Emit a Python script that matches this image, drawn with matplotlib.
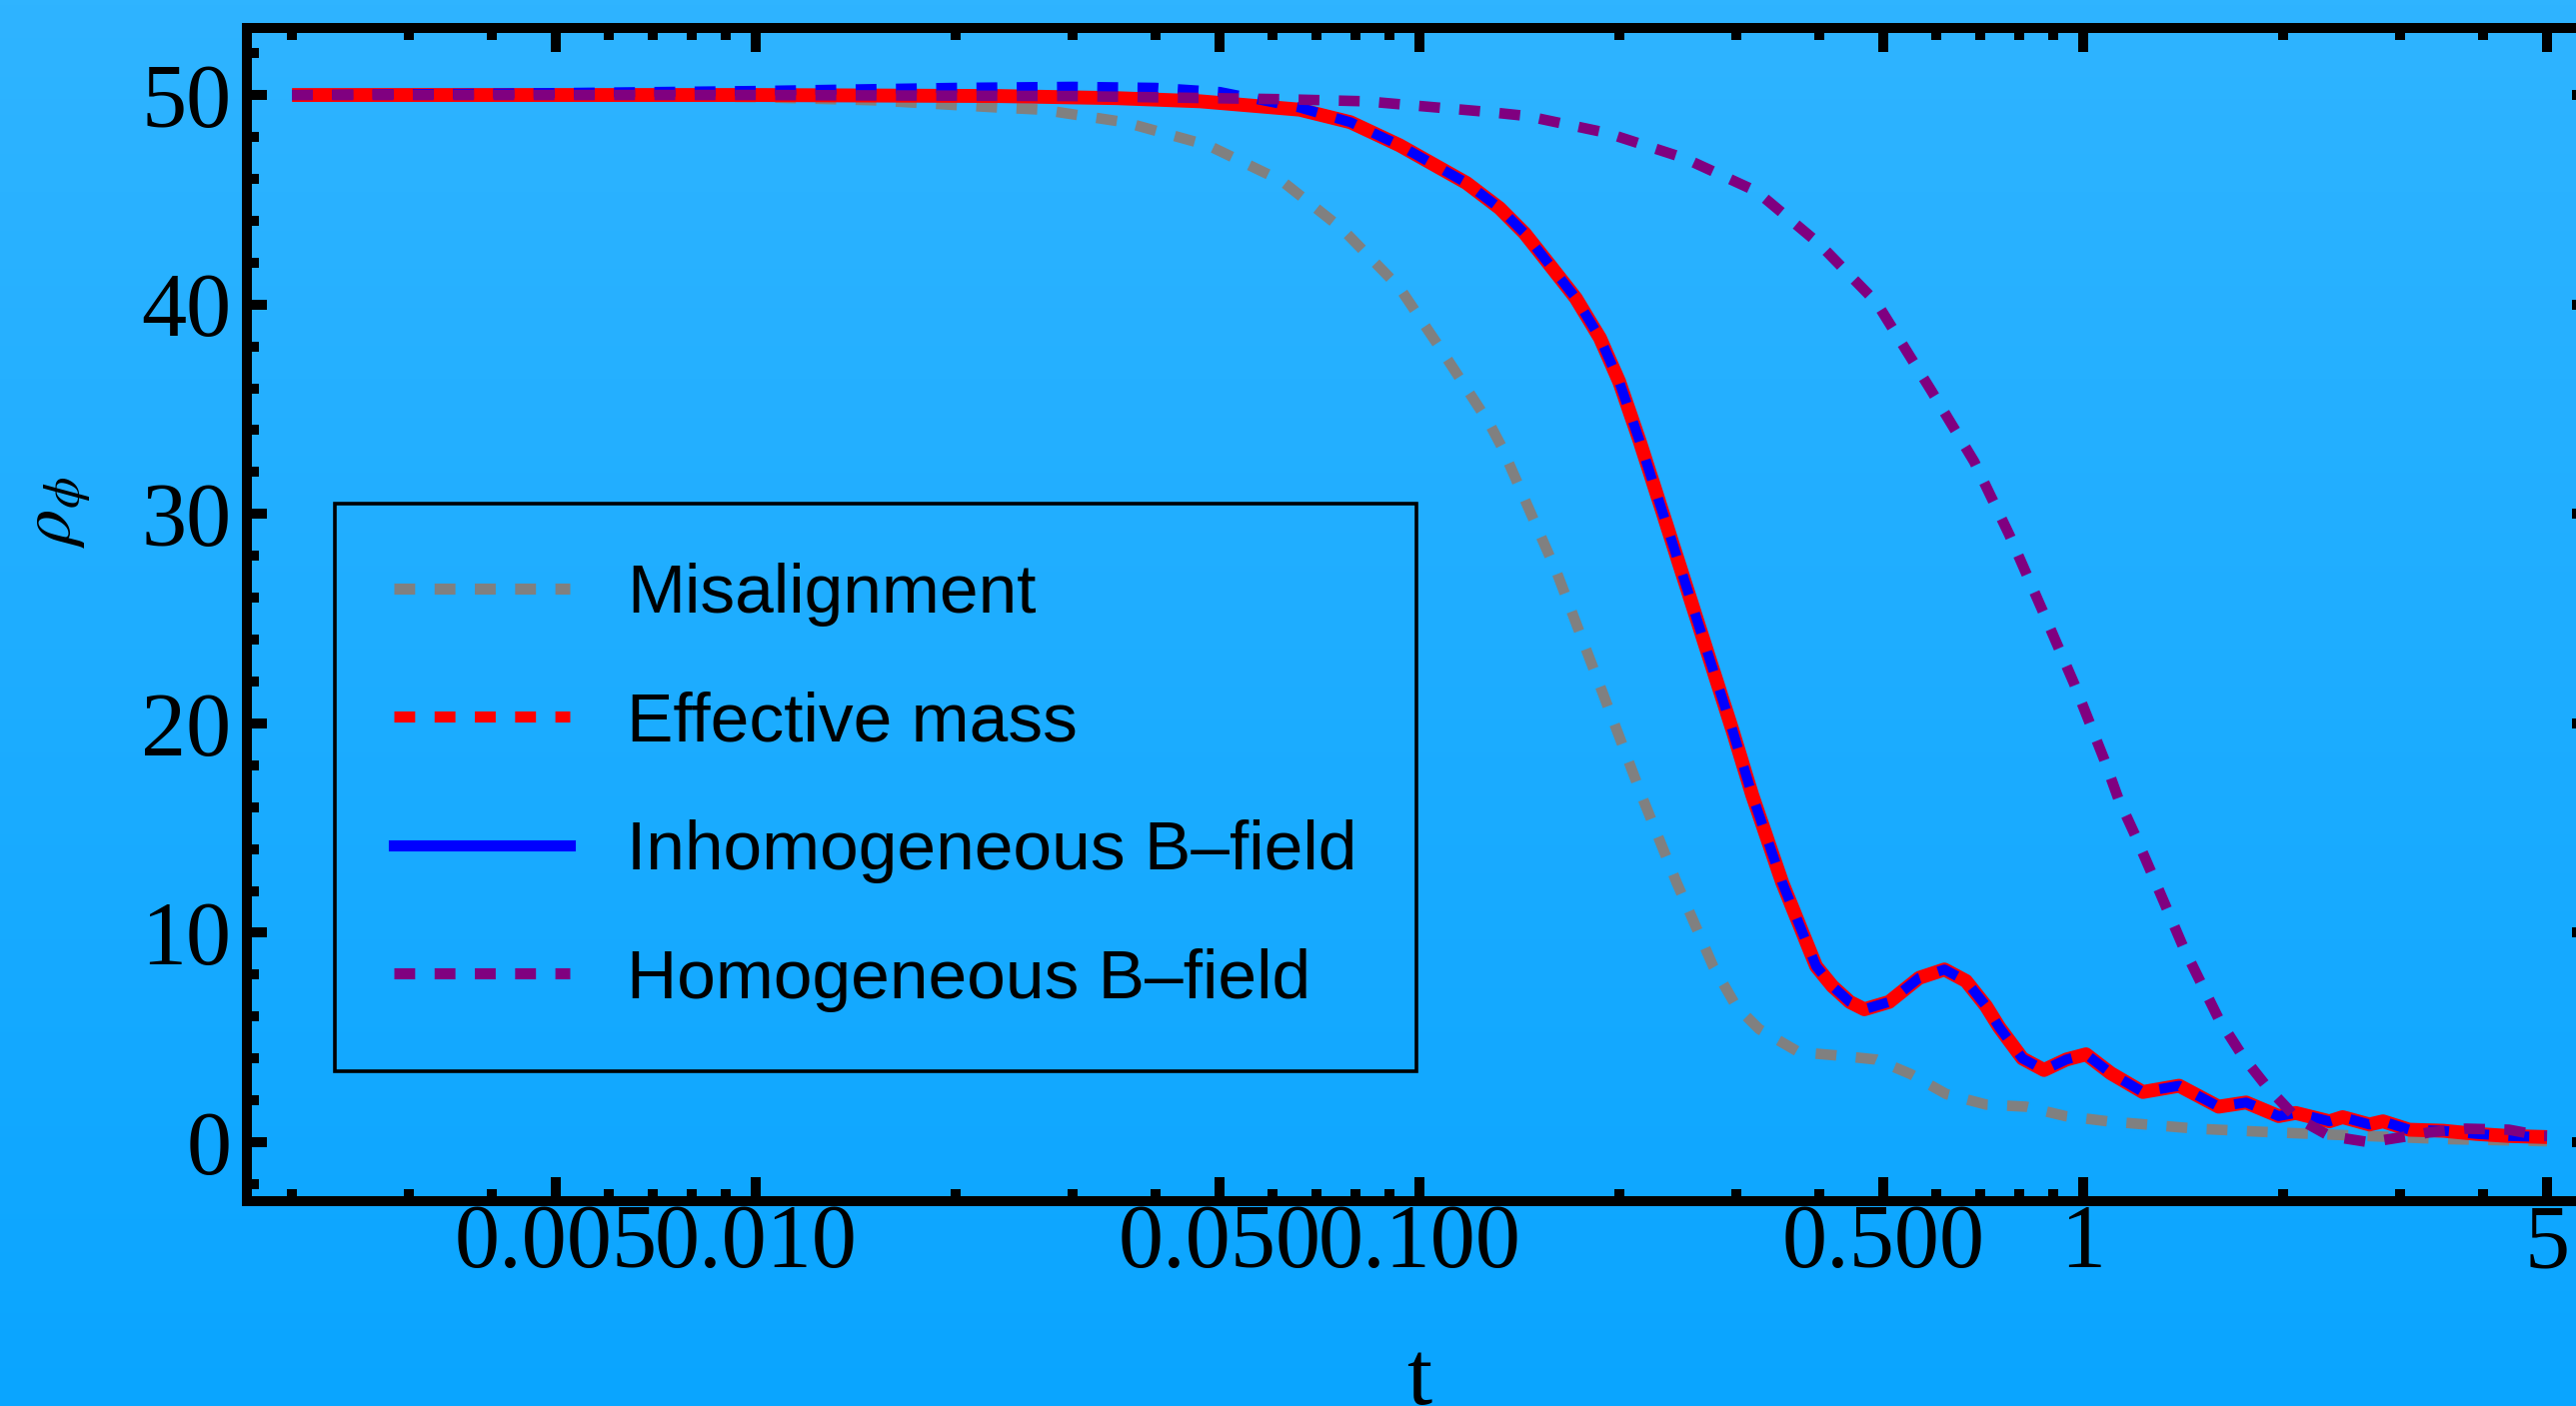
import numpy as np
import matplotlib
matplotlib.use('Agg')
from matplotlib import pyplot as plt
from matplotlib.lines import Line2D

# data (t, rho_phi)
t_mis = [0.002, 0.005, 0.01, 0.015, 0.0233, 0.027, 0.036, 0.048, 0.062, 0.0765,
         0.0933, 0.108, 0.1275, 0.133, 0.161, 0.187, 0.217, 0.244, 0.277, 0.30,
         0.325, 0.373, 0.424, 0.488, 0.55, 0.622, 0.714, 0.82, 0.94, 1.09,
         1.48, 1.95, 2.67, 3.56, 4.7, 5.0]
rho_mis = [50.0, 50.0, 49.9, 49.75, 49.4, 49.3, 48.7, 47.6, 45.9, 43.6,
           40.8, 37.8, 34.3, 33.2, 27.2, 21.8, 16.4, 12.4, 8.4, 6.5,
           5.4, 4.3, 4.15, 3.95, 3.25, 2.3, 1.8, 1.7, 1.25, 1.0,
           0.65, 0.47, 0.3, 0.15, 0.07, 0.05]

t_eff = [0.002, 0.005, 0.01, 0.0233, 0.035, 0.0467, 0.066, 0.0787, 0.0933, 0.1177,
         0.132, 0.144, 0.157, 0.172, 0.187, 0.20, 0.2145, 0.235, 0.264, 0.296,
         0.317, 0.352, 0.396, 0.419, 0.445, 0.468, 0.51, 0.566, 0.618, 0.666,
         0.714, 0.747, 0.81, 0.873, 0.943, 1.01, 1.10, 1.23, 1.395, 1.60,
         1.76, 1.97, 2.09, 2.35, 2.46, 2.70, 2.83, 3.10, 3.49, 3.91,
         4.38, 5.0]
rho_eff = [50.0, 50.0, 50.0, 49.95, 49.85, 49.7, 49.3, 48.7, 47.6, 45.8,
           44.6, 43.4, 41.9, 40.3, 38.4, 36.3, 33.5, 29.6, 24.6, 19.7,
           16.6, 12.4, 8.4, 7.45, 6.7, 6.35, 6.7, 7.85, 8.25, 7.7,
           6.5, 5.5, 4.0, 3.45, 3.95, 4.2, 3.3, 2.4, 2.7, 1.7,
           1.9, 1.25, 1.4, 1.0, 1.2, 0.85, 1.0, 0.6, 0.55, 0.4,
           0.3, 0.25]

# inhomogeneous: slightly above 50 early on, then on top of the effective mass curve
t_inh = [0.002, 0.005, 0.01, 0.02, 0.03, 0.04, 0.05, 0.066] + t_eff[7:]
rho_inh = [50.0, 50.1, 50.2, 50.35, 50.4, 50.35, 50.15, 49.4] + rho_eff[7:]

t_hom = [0.002, 0.01, 0.03, 0.062, 0.083, 0.126, 0.145, 0.191, 0.25, 0.322,
         0.40, 0.488, 0.59, 0.685, 0.774, 0.868, 0.969, 1.075, 1.13, 1.20,
         1.266, 1.414, 1.60, 1.74, 1.886, 2.09, 2.35, 2.70, 3.10, 3.32,
         3.77, 4.38, 4.93, 5.0]
rho_hom = [50.0, 50.0, 49.95, 49.8, 49.7, 49.2, 49.0, 48.2, 47.0, 45.4,
           42.9, 40.1, 35.9, 32.5, 29.0, 25.4, 21.9, 18.3, 16.4, 14.6,
           12.9, 9.35, 5.9, 4.1, 2.7, 1.2, 0.3, 0.0, 0.3, 0.47,
           0.65, 0.6, 0.3, 0.3]

xticks = [0.005, 0.01, 0.05, 0.1, 0.5, 1, 5]
xticklabels = ['0.005', '0.010', '0.050', '0.100', '0.500', '1', '5']
labels = ['Misalignment', 'Effective mass', 'Inhomogeneous B\u2013field',
          'Homogeneous B\u2013field']

plt.rcParams.update({'font.family': 'Liberation Serif',
                     'mathtext.fontset': 'stix',
                     'lines.scale_dashes': False})

W, H = 2577, 1407
fig = plt.figure(figsize=(W / 100, H / 100), dpi=100)

# background gradient
bg = fig.add_axes([0, 0, 1, 1], zorder=-10)
top = np.array([47, 180, 255]) / 255
bot = np.array([10, 165, 255]) / 255
f = np.linspace(0, 1, 256)[:, None]
grad = (top * (1 - f) + bot * f)[:, None, :]
bg.imshow(grad, aspect='auto', extent=[0, 1, 0, 1])
bg.axis('off')

left, right, ytop, ybot = 247, 2593, 28, 1202
ax = fig.add_axes([left / W, 1 - ybot / H, (right - left) / W, (ybot - ytop) / H])
ax.set_facecolor('none')
ax.set_xscale('log')
ax.set_xlim(0.00171, 5.844)
ax.set_ylim(-2.81, 53.2)

dash = (15, 14)
ax.plot(t_mis, rho_mis, color='#808080', lw=7.6, dashes=dash,
        dash_capstyle='butt', dash_joinstyle='round')
ax.plot(t_eff, rho_eff, color='red', lw=10, solid_joinstyle='round',
        solid_capstyle='butt')
ax.plot(t_inh, rho_inh, color='blue', lw=7.2, dashes=dash,
        dash_capstyle='butt', dash_joinstyle='round')
ax.plot(t_hom, rho_hom, color='purple', lw=7.6, dashes=dash,
        dash_capstyle='butt', dash_joinstyle='round')

for s in ax.spines.values():
    s.set_linewidth(7.2)

ax.set_xticks(xticks)
ax.set_xticklabels(xticklabels)
ax.set_xticks([m * 10.0 ** e for e in (-3, -2, -1, 0) for m in range(2, 10)
               if 0.00171 < m * 10.0 ** e < 5.8 and m != 5], minor=True)
ax.xaxis.set_minor_formatter(plt.NullFormatter())
ax.set_yticks(range(0, 51, 10))
ax.set_yticks(np.arange(-2, 53, 2), minor=True)

ax.tick_params(axis='both', which='both', direction='in', top=True, right=True,
               width=7.2, labelsize=65)
ax.tick_params(axis='x', which='major', length=17, pad=2)
ax.tick_params(axis='x', which='minor', length=8.6)
ax.tick_params(axis='y', which='major', length=14.4, pad=11)
ax.tick_params(axis='y', which='minor', length=8.6)

ax.set_xlabel('t', fontsize=65, va='baseline')
ax.xaxis.set_label_coords(0.5, -(1405 - ybot) / (ybot - ytop))
ax.set_ylabel(r'$\rho_{\phi}$', fontsize=52, va='center')
ax.yaxis.set_label_coords((62 - left) / (right - left), (ybot - 512) / (ybot - ytop))

handles = [Line2D([], [], color='#808080', lw=8, dashes=dash, dash_capstyle='butt'),
           Line2D([], [], color='red', lw=8, dashes=dash, dash_capstyle='butt'),
           Line2D([], [], color='blue', lw=8),
           Line2D([], [], color='purple', lw=8, dashes=dash, dash_capstyle='butt')]
leg = ax.legend(handles, labels, loc='upper left',
                bbox_to_anchor=((335 - left) / (right - left), (ybot - 504) / (ybot - ytop)),
                borderaxespad=0, prop={'family': 'Liberation Sans', 'size': 50},
                handlelength=2.53, handletextpad=0.83, labelspacing=0.93,
                borderpad=0.85, fancybox=False, framealpha=1)
leg.get_frame().set_facecolor('none')
leg.get_frame().set_edgecolor('black')
leg.get_frame().set_linewidth(2.6)

plt.savefig('out.png', dpi=100)
